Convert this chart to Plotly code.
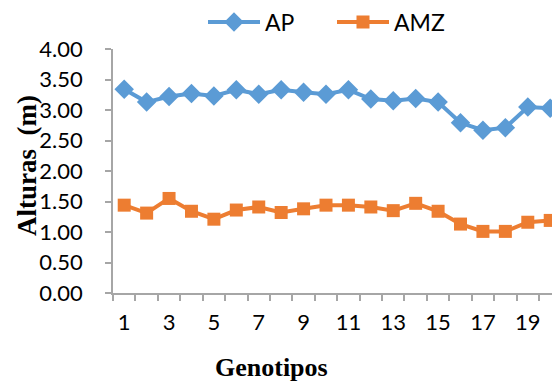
import plotly.graph_objects as go

genotipos = list(range(1, 21))
ap = [3.34, 3.13, 3.22, 3.27, 3.23, 3.33, 3.26, 3.33, 3.29, 3.26,
      3.33, 3.18, 3.15, 3.19, 3.13, 2.79, 2.67, 2.71, 3.05, 3.03]
amz = [1.44, 1.31, 1.55, 1.34, 1.21, 1.36, 1.41, 1.32, 1.38, 1.44,
       1.44, 1.41, 1.35, 1.47, 1.34, 1.13, 1.01, 1.01, 1.16, 1.19]
x_tick_labels = [1, 3, 5, 7, 9, 11, 13, 15, 17, 19]
y_ticks = [0, 0.5, 1, 1.5, 2, 2.5, 3, 3.5, 4]

BLUE = "#5B9BD5"
ORANGE = "#ED7D31"
AXIS = "#A6A6A6"

fig = go.Figure()
fig.add_trace(go.Scatter(x=genotipos, y=ap, name="AP", mode="lines+markers",
                         line=dict(color=BLUE, width=4),
                         marker=dict(symbol="diamond", size=15, color=BLUE),
                         cliponaxis=False))
fig.add_trace(go.Scatter(x=genotipos, y=amz, name="AMZ", mode="lines+markers",
                         line=dict(color=ORANGE, width=4),
                         marker=dict(symbol="square", size=13, color=ORANGE),
                         cliponaxis=False))

W, H = 552, 383
L, R, T, B = 113, 0, 49, 90

fig.update_layout(
    width=W, height=H,
    margin=dict(l=L, r=R, t=T, b=B, pad=0),
    paper_bgcolor="white", plot_bgcolor="white",
    font=dict(family="Lato", size=22, color="#000000"),
    showlegend=True,
    legend=dict(orientation="h", x=(203 - L) / (W - L - R), xanchor="left",
                y=1 + 27 / (H - T - B), yanchor="middle",
                font=dict(family="Lato", size=23, color="#000000"),
                itemwidth=52, entrywidth=62, tracegroupgap=0),
    xaxis=dict(range=[0.5, 20.08], showgrid=False, zeroline=False,
               showline=True, linecolor=AXIS, linewidth=1.5,
               tickmode="array", tickvals=x_tick_labels,
               ticktext=[str(v) for v in x_tick_labels],
               ticks="", ticklabelstandoff=9,
               minor=dict(tick0=0.5, dtick=1, ticks="outside", ticklen=6,
                          tickcolor=AXIS, tickwidth=1.5, showgrid=False)),
    yaxis=dict(range=[0, 4], showgrid=False, zeroline=False,
               showline=True, linecolor=AXIS, linewidth=1.5,
               tickmode="array", tickvals=y_ticks,
               ticktext=[f"{v:.2f}" for v in y_ticks],
               ticks="outside", ticklen=6, tickcolor=AXIS, tickwidth=1.5,
               ticklabelstandoff=18),
    annotations=[
        dict(text="<b>Genotipos</b>", xref="paper", yref="paper",
             x=(271 - L) / (W - L - R), y=-(367 - (H - B)) / (H - T - B),
             xanchor="center", yanchor="middle", showarrow=False,
             font=dict(family="Liberation Serif", size=26, color="#000000")),
        dict(text="<b>Alturas  (m)</b>", xref="paper", yref="paper",
             x=-(L - 27) / (W - L - R), y=((H - B) - 166) / (H - T - B),
             xanchor="center", yanchor="middle", showarrow=False, textangle=-90,
             font=dict(family="Liberation Serif", size=27, color="#000000")),
    ],
)

fig.write_html("out.html")
